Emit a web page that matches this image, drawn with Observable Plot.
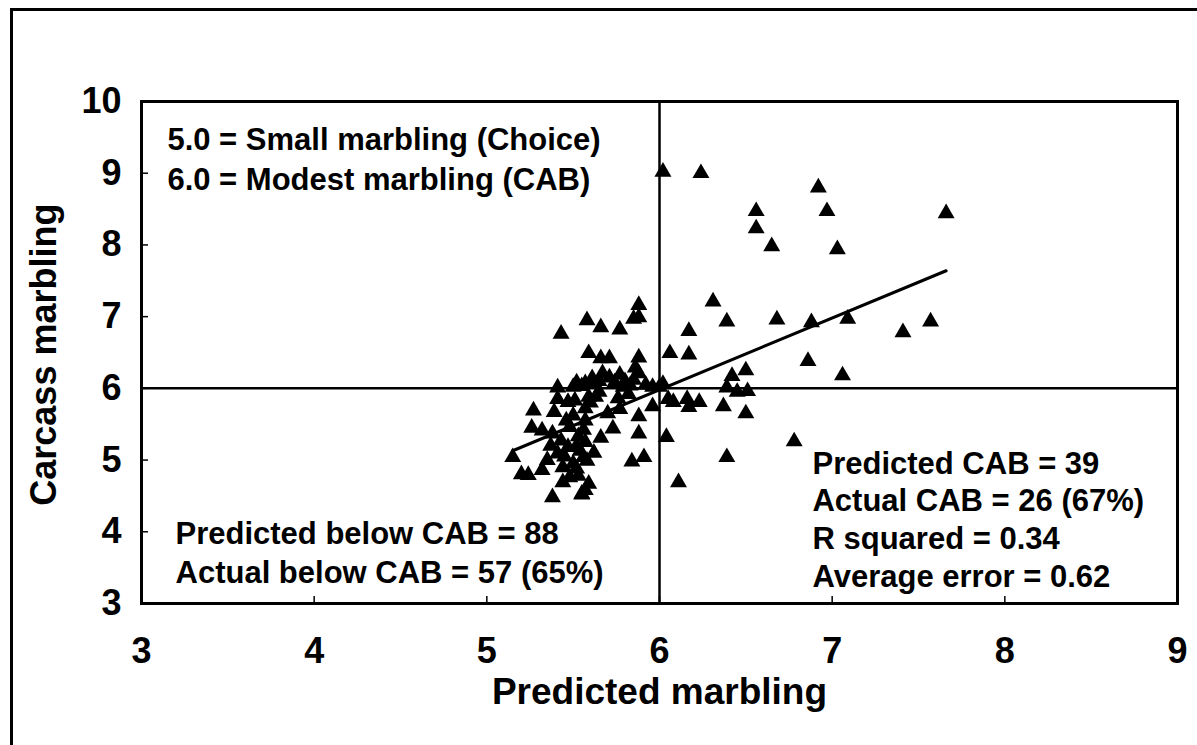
<!DOCTYPE html>
<html>
<head>
<meta charset="utf-8">
<script src="https://cdn.jsdelivr.net/npm/d3@7"></script>
<script src="https://cdn.jsdelivr.net/npm/@observablehq/plot@0.6"></script>
<style>
  html, body { margin: 0; padding: 0; background: #fff; }
  #wrap { position: relative; width: 1197px; height: 745px; overflow: hidden; }
  #border { position: absolute; left: 10px; top: 8px; width: 1300px; height: 900px;
            border-left: 3px solid #000; border-top: 3px solid #000; pointer-events: none; }
  svg { font-family: "Liberation Sans", Arial, sans-serif; }
</style>
</head>
<body>
<div id="wrap"><div id="border"></div></div>
<script>
// Predicted marbling (x) and carcass marbling (y)
const predX = [
  // predicted CAB (x >= 6)
  6.02, 6.24, 6.92, 6.97, 6.56, 6.56, 6.65, 7.03, 7.66, 6.31, 6.39, 6.68, 6.88, 7.09, 7.41, 7.57,
  6.17, 6.17, 6.06, 6.86, 7.06, 6.50, 6.42, 6.39, 6.45, 6.51, 6.50, 6.37, 6.23, 6.17, 6.16, 6.08,
  6.05, 6.00, 6.04, 6.11, 6.78, 6.39, 6.02,
  // predicted below CAB, actual >= 6
  5.43, 5.58, 5.66, 5.77, 5.88, 5.85, 5.88, 5.59, 5.66, 5.71, 5.88, 5.86, 5.88, 5.41, 5.52, 5.57,
  5.62, 5.67, 5.71, 5.77, 5.83, 5.96, 5.79, 5.61, 5.80, 5.65, 5.74, 5.50, 5.55, 5.92, 5.85,
  // predicted below CAB, actual below
  5.27, 5.39, 5.51, 5.46, 5.26, 5.32, 5.15, 5.20, 5.24, 5.32, 5.38, 5.66, 5.73, 5.77, 5.88, 5.88,
  5.84, 5.91, 5.96, 5.57, 5.55, 5.43, 5.47, 5.53, 5.54, 5.56, 5.50, 5.44, 5.48, 5.53, 5.44, 5.56,
  5.48, 5.41, 5.38, 5.37, 5.52, 5.50, 5.47, 5.57, 5.63, 5.76, 5.70, 5.57, 5.58, 5.59, 5.59, 5.57,
  5.55, 5.60, 5.41, 5.65, 5.82, 5.45, 5.52, 5.62, 5.35
];
const carcassY = [
  9.02, 9.00, 8.80, 8.47, 8.47, 8.23, 7.98, 7.94, 8.44, 7.21, 6.93, 6.96, 6.92, 6.97, 6.78, 6.93,
  6.80, 6.47, 6.49, 6.38, 6.18, 6.25, 6.17, 6.01, 5.95, 5.96, 5.65, 5.75, 5.81, 5.74, 5.85, 5.81,
  5.85, 6.02, 5.32, 4.69, 5.26, 5.04, 6.06,
  6.76, 6.95, 6.85, 6.82, 7.16, 6.97, 6.99, 6.49, 6.42, 6.42, 6.43, 6.29, 6.21, 6.01, 6.08, 6.07,
  6.08, 6.21, 6.15, 6.19, 6.04, 6.02, 6.02, 6.14, 6.10, 6.10, 6.08, 6.02, 6.03, 6.05, 6.12,
  5.69, 5.67, 5.83, 5.55, 5.45, 5.41, 5.04, 4.80, 4.79, 4.86, 4.48, 5.31, 5.44, 5.71, 5.61, 5.37,
  4.98, 5.04, 5.75, 4.58, 4.53, 5.27, 5.18, 5.33, 5.13, 5.04, 4.95, 4.90, 4.76, 4.78, 4.69, 5.42,
  5.46, 5.09, 5.37, 5.20, 4.88, 5.62, 5.81, 5.72, 5.88, 5.86, 5.65, 5.25, 4.99, 4.67, 5.88, 5.55,
  4.52, 5.80, 5.85, 5.95, 5.92, 5.05, 5.20, 5.10, 5.00
];
// fitted regression line (carcass = slope * predicted + intercept)
const fitSlope = 1.0;
const fitIntercept = -0.02;
// CAB threshold (modest marbling)
const cabThreshold = 6;
// ticks
const xTicks = [3, 4, 5, 6, 7, 8, 9];
const yTicks = [3, 4, 5, 6, 7, 8, 9, 10];
// annotation texts
const legendText = ["5.0 = Small marbling (Choice)", "6.0 = Modest marbling (CAB)"];
const belowText = ["Predicted below CAB = 88", "Actual below CAB = 57 (65%)"];
const cabText = ["Predicted CAB = 39", "Actual CAB = 26 (67%)", "R squared = 0.34", "Average error = 0.62"];
const xLabel = "Predicted marbling";
const yLabel = "Carcass marbling";

const points = predX.map((x, i) => ({x, y: carcassY[i]}));
const [fx0, fx1] = d3.extent(predX);
const fitLine = [fx0, fx1].map(x => ({x, y: fitSlope * x + fitIntercept}));

const annFont = 31;
const chart = Plot.plot({
  width: 1197,
  height: 745,
  marginLeft: 141,
  marginRight: 20,
  marginTop: 101,
  marginBottom: 142,
  x: {domain: [3, 9]},
  y: {domain: [3, 10]},
  style: {fontFamily: "'Liberation Sans', Arial, sans-serif", color: "#000", background: "#fff"},
  marks: [
    Plot.ruleX([cabThreshold], {stroke: "#000", strokeWidth: 2.5}),
    Plot.ruleY([cabThreshold], {stroke: "#000", strokeWidth: 2.5}),
    Plot.frame({stroke: "#000", strokeWidth: 3}),
    Plot.axisX(xTicks, {tickSize: -7, tickPadding: 41, tickFormat: "d", fontSize: 36, fontWeight: "bold", label: null, strokeWidth: 1.5}),
    Plot.axisY(yTicks, {tickSize: -7, tickPadding: 27, tickFormat: "d", fontSize: 36, fontWeight: "bold", label: null, strokeWidth: 1.5}),
    Plot.text([xLabel], {frameAnchor: "bottom", dy: 89, text: d => d, fontSize: 37, fontWeight: "bold", lineAnchor: "middle"}),
    Plot.text([yLabel], {x: 2.44, y: 6.47, rotate: -90, text: d => d, fontSize: 36, fontWeight: "bold", lineAnchor: "middle", textAnchor: "middle"}),
    Plot.line(fitLine, {x: "x", y: "y", stroke: "#000", strokeWidth: 3}),
    Plot.dot(points, {x: "x", y: "y", symbol: "triangle", r: 6.3, fill: "#000", stroke: "none"}),
    Plot.text([legendText.join("\n")], {x: 3.15, y: 9.225, text: d => d, textAnchor: "start", lineAnchor: "middle", lineHeight: 1.3, fontSize: annFont, fontWeight: "bold"}),
    Plot.text([belowText.join("\n")], {x: 3.197, y: 3.735, text: d => d, textAnchor: "start", lineAnchor: "middle", lineHeight: 1.28, fontSize: annFont, fontWeight: "bold"}),
    Plot.text([cabText.join("\n")], {x: 6.886, y: 4.19, text: d => d, textAnchor: "start", lineAnchor: "middle", lineHeight: 1.22, fontSize: annFont, fontWeight: "bold"})
  ]
});
document.getElementById("wrap").insertBefore(chart, document.getElementById("border"));
</script>
</body>
</html>
